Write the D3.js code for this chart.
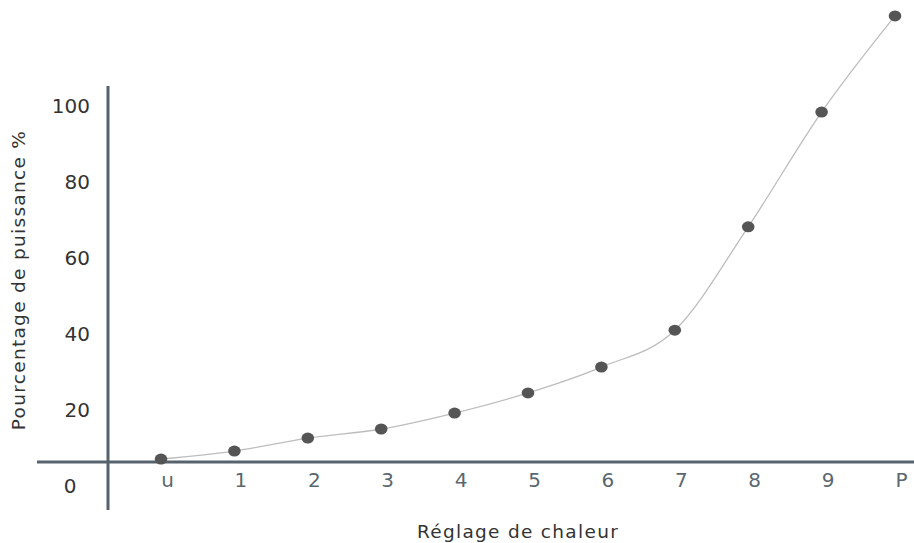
<!DOCTYPE html>
<html>
<head>
<meta charset="utf-8">
<script src="https://cdn.jsdelivr.net/npm/d3@7"></script>
<style>
  body { margin: 0; background: #fff; }
  svg { display: block; font-family: "DejaVu Sans", sans-serif; }
</style>
</head>
<body>
<div id="chart"></div>
<script>
// heat settings and power percentage
const settings = ["u", "1", "2", "3", "4", "5", "6", "7", "8", "9", "P"];
const power = [7.1, 9.2, 12.6, 15, 19.2, 24.5, 31.3, 41, 68.2, 98.4, 123.7];
const yTicks = [0, 20, 40, 60, 80, 100];

const W = 914, H = 543;
const font = "DejaVu Sans, sans-serif";

const svg = d3.select("#chart")
    .append("svg")
    .attr("width", W)
    .attr("height", H);

// scales
const x = d3.scalePoint()
    .domain(settings)
    .range([161, 895]);

const y = d3.scaleLinear()
    .domain([0, 100])
    .range([486, 106]);

const axisColor = "#56626c";

// axis lines
svg.append("line")
    .attr("x1", 37).attr("x2", W)
    .attr("y1", 462).attr("y2", 462)
    .attr("stroke", axisColor)
    .attr("stroke-width", 3);

svg.append("line")
    .attr("x1", 108).attr("x2", 108)
    .attr("y1", 86).attr("y2", 510)
    .attr("stroke", axisColor)
    .attr("stroke-width", 3);

// x tick labels
const xAxis = svg.append("g")
    .attr("transform", "translate(6,462)")
    .call(d3.axisBottom(x).tickSize(0).tickPadding(11));
xAxis.select(".domain").remove();
xAxis.selectAll("text")
    .attr("font-size", "20px")
    .attr("font-family", font)
    .attr("fill", "#5b6770");

// y tick labels
const yAxis = svg.append("g")
    .attr("transform", "translate(90,0)")
    .call(d3.axisLeft(y).tickValues(yTicks).tickSize(0).tickPadding(0));
yAxis.select(".domain").remove();
yAxis.selectAll("text")
    .attr("font-size", "20px")
    .attr("font-family", font)
    .attr("fill", "#333");
// the zero label sits centred under the axis corner
yAxis.selectAll(".tick")
    .filter(d => d === 0)
    .select("text")
    .attr("text-anchor", "middle")
    .attr("x", -20);

// curve
const line = d3.line()
    .x((d, i) => x(settings[i]))
    .y(d => y(d))
    .curve(d3.curveMonotoneX);

svg.append("path")
    .datum(power)
    .attr("d", line)
    .attr("fill", "none")
    .attr("stroke", "#bdbdbd")
    .attr("stroke-width", 1.3);

// dots
svg.selectAll(".dot")
    .data(power)
    .join("ellipse")
    .attr("class", "dot")
    .attr("cx", (d, i) => x(settings[i]))
    .attr("cy", d => y(d))
    .attr("rx", 6.3)
    .attr("ry", 5.5)
    .attr("fill", "#555");

// axis titles
svg.append("text")
    .attr("x", 518)
    .attr("y", 538)
    .attr("text-anchor", "middle")
    .attr("font-size", "18.5px")
    .attr("letter-spacing", "1.3px")
    .attr("fill", "#333")
    .text("Réglage de chaleur");

svg.append("text")
    .attr("transform", "translate(25,280) rotate(-90)")
    .attr("text-anchor", "middle")
    .attr("font-size", "18.5px")
    .attr("letter-spacing", "1.3px")
    .attr("fill", "#333")
    .text("Pourcentage de puissance %");
</script>
</body>
</html>
